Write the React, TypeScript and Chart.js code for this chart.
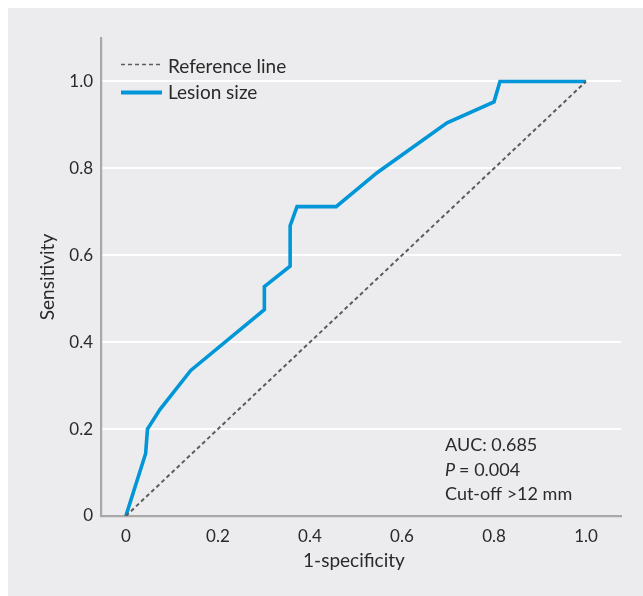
import React, { useEffect, useRef } from "react";
import { Chart, registerables } from "chart.js";

Chart.register(...registerables);

// ---- data ----
const fprValues = [0, 0.043, 0.047, 0.074, 0.141, 0.301, 0.301, 0.357, 0.357, 0.372, 0.457, 0.546, 0.698, 0.8, 0.813, 1.0];
const tprValues = [0, 0.144, 0.2, 0.245, 0.335, 0.475, 0.528, 0.575, 0.668, 0.712, 0.712, 0.79, 0.905, 0.953, 1.0, 1.0];
const refXValues = [0, 1];
const refYValues = [0, 1];
const xTickValues = [0, 0.2, 0.4, 0.6, 0.8, 1.0];
const xTickLabels = ["0", "0.2", "0.4", "0.6", "0.8", "1.0"];
const yTickValues = [0, 0.2, 0.4, 0.6, 0.8, 1.0];
const yTickLabels = ["0", "0.2", "0.4", "0.6", "0.8", "1.0"];
const seriesNames = ["Reference line", "Lesion size"];
const xTitle = "1-specificity";
const yTitle = "Sensitivity";
const aucText = "AUC: 0.685";
const pLabel = "P";
const pValueText = "= 0.004";
const cutoffText = "Cut-off >12 mm";

const FONT = "Lato, 'Open Sans', sans-serif";
const TEXT = "#2a2a2a";
const AXIS = "#a8a8a8";
const BLUE = "#0096d8";
const DASH = "#5c5c5c";

const overlay = {
  id: "overlay",
  afterDraw(chart: any) {
    const ctx = chart.ctx;
    const xs = chart.scales.x;
    const ys = chart.scales.y;
    ctx.save();
    ctx.fillStyle = TEXT;
    // axis titles
    ctx.font = `19px ${FONT}`;
    ctx.textAlign = "center";
    ctx.textBaseline = "middle";
    ctx.fillText(xTitle, xs.getPixelForValue(0.5) - 2, 553);
    ctx.save();
    ctx.translate(40, (ys.top + ys.bottom) / 2);
    ctx.rotate(-Math.PI / 2);
    ctx.fillText(yTitle, 0, 0);
    ctx.restore();

    // legend
    const ds0 = chart.data.datasets[0];
    const ds1 = chart.data.datasets[1];
    ctx.save();
    ctx.strokeStyle = ds0.borderColor;
    ctx.lineWidth = 1.6;
    ctx.setLineDash([4, 3]);
    ctx.beginPath();
    ctx.moveTo(113, 56.5);
    ctx.lineTo(154, 56.5);
    ctx.stroke();
    ctx.setLineDash([]);
    ctx.strokeStyle = ds1.borderColor;
    ctx.lineWidth = 4;
    ctx.beginPath();
    ctx.moveTo(113, 84.5);
    ctx.lineTo(154, 84.5);
    ctx.stroke();
    ctx.restore();
    ctx.textAlign = "left";
    ctx.font = `19px ${FONT}`;
    ctx.fillText(ds0.label, 160, 59);
    ctx.fillText(ds1.label, 160, 85);

    // annotation
    const ax = 437;
    ctx.font = `18px ${FONT}`;
    ctx.fillText(aucText, ax, 437.5);
    ctx.font = `italic 18px ${FONT}`;
    ctx.fillText(pLabel, ax, 462);
    const pw = ctx.measureText(pLabel).width;
    ctx.font = `18px ${FONT}`;
    ctx.fillText(pValueText, ax + pw + 4, 462);
    ctx.fillText(cutoffText, ax, 486);
    ctx.restore();
  },
};

export default function App() {
  const ref = useRef<HTMLCanvasElement | null>(null);
  useEffect(() => {
    if (!ref.current) return;
    const chart = new Chart(ref.current, {
      type: "scatter",
      data: {
        datasets: [
          {
            label: seriesNames[0],
            data: refXValues.map((x, i) => ({ x, y: refYValues[i] })),
            showLine: true,
            borderColor: DASH,
            borderWidth: 2,
            borderDash: [4, 3],
            pointRadius: 0,
            fill: false,
          },
          {
            label: seriesNames[1],
            data: fprValues.map((x, i) => ({ x, y: tprValues[i] })),
            showLine: true,
            borderColor: BLUE,
            borderWidth: 3.6,
            pointRadius: 0,
            fill: false,
            borderJoinStyle: "miter",
          },
        ],
      },
      options: {
        responsive: false,
        animation: false,
        layout: { padding: { left: 0, top: 30, right: 22, bottom: 0 } },
        plugins: { legend: { display: false }, tooltip: { enabled: false } },
        font: { family: FONT },
        scales: {
          x: {
            type: "linear",
            min: -0.054,
            max: 1.076,
            afterBuildTicks: (s: any) => {
              s.ticks = xTickValues.map((v) => ({ value: v }));
            },
            afterFit: (s: any) => {
              s.height = 80;
            },
            grid: { display: false, drawTicks: false },
            border: { display: true, color: AXIS, width: 2.2 },
            ticks: {
              font: { family: FONT, size: 17 },
              color: TEXT,
              padding: 10,
              maxRotation: 0,
              callback: (v: any) => {
                const i = xTickValues.findIndex((t) => Math.abs(t - v) < 1e-6);
                return i >= 0 ? xTickLabels[i] : "";
              },
            },
          },
          y: {
            type: "linear",
            min: 0,
            max: 1.1,
            afterBuildTicks: (s: any) => {
              s.ticks = yTickValues.map((v) => ({ value: v }));
            },
            afterFit: (s: any) => {
              s.width = 93;
            },
            grid: {
              drawTicks: false,
              lineWidth: 2,
              color: (c: any) => (c.tick && c.tick.value === 0 ? "rgba(0,0,0,0)" : "#ffffff"),
            },
            border: { display: true, color: AXIS, width: 2.2 },
            ticks: {
              font: { family: FONT, size: 17 },
              color: TEXT,
              padding: 8,
              callback: (v: any) => {
                const i = yTickValues.findIndex((t) => Math.abs(t - v) < 1e-6);
                return i >= 0 ? yTickLabels[i] : "";
              },
            },
          },
        },
      } as any,
      plugins: [overlay],
    });
    return () => chart.destroy();
  }, []);

  return (
    <div
      style={{
        position: "fixed",
        left: 8,
        top: 8,
        width: 635,
        height: 588,
        background: "#ececee",
        overflow: "hidden",
      }}
    >
      <canvas ref={ref} width={635} height={588} style={{ display: "block" }} />
    </div>
  );
}
